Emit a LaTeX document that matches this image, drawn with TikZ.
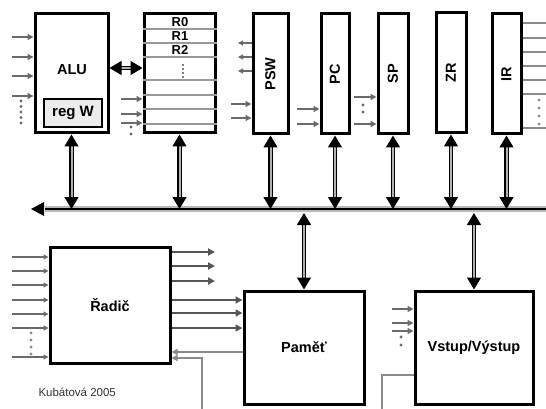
\documentclass[tikz,border=0pt]{standalone}
\usepackage{fontspec}
\setmainfont{Liberation Sans}
\usetikzlibrary{arrows.meta}
\definecolor{ar}{HTML}{6A6A6A}
\definecolor{ln}{HTML}{8A8A8A}
\begin{document}
\begin{tikzpicture}[x=1pt,y=-1pt,
  box/.style={draw=black,line width=3pt,fill=white,inner sep=0pt},
  lbl/.style={font=\fontsize{14.5}{16}\selectfont\bfseries},
  rl/.style={font=\fontsize{13}{14}\selectfont\bfseries},
  sarr/.style={draw=ar,line width=1.8pt,-{Triangle[width=6pt,length=6pt]}},
  darr/.style={draw=ar!80!black,line width=2.2pt,-{Triangle[width=7pt,length=7pt]}},
  gline/.style={draw=ln,line width=2.2pt},
  reg/.style={draw=gray!80,line width=1.2pt},
  busarr/.style={draw=black,line width=1.4pt,double=gray!60,double distance=2pt,
    {Triangle[width=14pt,length=12pt]}-{Triangle[width=14pt,length=12pt]}},
  dot/.style={fill=ar}
]
\useasboundingbox (0,0) rectangle (546,409);

% --- top row boxes
\node[box,minimum width=73pt,minimum height=119pt] (alu) at (71.5,73.5) {};
\node[lbl] (alut) at (72,70) {ALU};
\node[box,line width=2.5pt,fill=gray!15,minimum width=58pt,minimum height=28pt,
      font=\fontsize{15}{17}\selectfont\bfseries] (regw) at (73,113) {reg W};
\node[box,minimum width=71pt,minimum height=119pt] (regs) at (179.5,73.5) {};
\foreach \y in {29,43,57,80,95,109,124}
  \draw[reg] (regs.west |- 0,\y) -- (regs.east |- 0,\y);
\node[rl] (r0) at (180,22) {R0};
\node[rl] (r1) at (180,36) {R1};
\node[rl] (r2) at (180,50) {R2};
\foreach \y in {65,69,73,77} \fill[black] (183,\y) circle (0.9pt);

\node[box,minimum width=35pt,minimum height=120pt] (psw) at (270.5,74) {};
\node[lbl,rotate=90] at (psw) {PSW};
\node[box,minimum width=28pt,minimum height=120pt] (pc) at (335,74) {};
\node[lbl,rotate=90] at (pc) {PC};
\node[box,minimum width=30pt,minimum height=120pt] (sp) at (393,74) {};
\node[lbl,rotate=90] at (sp) {SP};
\node[box,minimum width=30pt,minimum height=120pt] (zr) at (451,73) {};
\node[lbl,rotate=90] at (zr) {ZR};
\node[box,minimum width=29pt,minimum height=120pt] (ir) at (506.5,74) {};
\node[lbl,rotate=90] at (ir) {IR};

% --- bottom boxes
\node[box,minimum width=120pt,minimum height=116pt] (rad) at (110,305) {};
\node[lbl] at (rad) {Řadič};
\node[box,minimum width=120pt,minimum height=113pt] (pam) at (304,347.5) {};
\node[lbl] at (pam) {Paměť};
\node[box,minimum width=118pt,minimum height=113pt] (vv) at (474,347.5) {};
\node[lbl] at (vv) {Vstup/Výstup};

\node[anchor=west,font=\fontsize{11.5}{13}\selectfont,text=black!80] (kub) at (35,392) {Kubátová 2005};

% --- bus
\coordinate (busR) at (546,209);
\coordinate (busL) at (31,209);
\draw[gray!55,line width=6pt] (busR) -- (45,209);
\draw[black,line width=1.8pt] (busR) -- (45,209);
\fill[black] (busL) -- (44,202) -- (44,216) -- cycle;

% --- bus arrows
\foreach \n in {alu,regs,psw,pc,sp,zr,ir}
  \draw[busarr] (\n.south) -- (\n.south |- busL);
\draw[busarr] (pam.north |- 0,213) -- (pam.north);
\draw[busarr] (vv.north |- 0,213) -- (vv.north);
\draw[busarr] (alu.east |- 0,68) -- (regs.west |- 0,68);

% --- ALU inputs
\foreach \y in {37,57,76,96}
  \draw[sarr] (12,\y) -- (alu.west |- 0,\y);
\foreach \y in {101,106.5,112,117.5,123} \fill[dot] (21,\y) circle (1.6pt);
% register inputs
\foreach \y in {99,114,123}
  \draw[sarr] (121,\y) -- (regs.west |- 0,\y);
\fill[dot] (131,127) circle (1.6pt);
\fill[dot] (131,134) circle (1.6pt);

% PSW outputs and inputs
\foreach \y in {43,57,71}
  \draw[draw=ar,line width=1.2pt,-{Triangle[width=5pt,length=5pt]}] (psw.west |- 0,\y) -- (238,\y);
\foreach \y in {104,118}
  \draw[sarr] (231,\y) -- (psw.west |- 0,\y);
% PC inputs
\foreach \y in {109,124}
  \draw[sarr] (297,\y) -- (pc.west |- 0,\y);
% SP inputs
\foreach \y in {97,124}
  \draw[sarr] (354,\y) -- (sp.west |- 0,\y);
\fill[dot] (363,105) circle (1.6pt);
\fill[dot] (363,112) circle (1.6pt);
% IR outputs
\foreach \y in {23,38,52,66,80,94,128}
  \draw[draw=ln,line width=1.5pt] (ir.east |- 0,\y) -- (546,\y);
\foreach \y in {100,108,116,124} \fill[fill=ln] (539,\y) circle (1.6pt);

% --- Radic inputs
\foreach \y in {257,271,285,300,314,328,357}
  \draw[draw=ar,line width=1.5pt,-{Triangle[width=5pt,length=5pt]}] (12,\y) -- (rad.west |- 0,\y);
\foreach \y in {333,340,347,354} \fill[fill=ln] (31,\y) circle (1.6pt);
% Radic outputs
\foreach \y in {252,266,281}
  \draw[darr] (rad.east |- 0,\y) -- (215,\y);
\foreach \y in {300,313,328}
  \draw[darr] (rad.east |- 0,\y) -- (pam.west |- 0,\y);
\draw[draw=ln,line width=2pt,-{Triangle[width=6pt,length=6pt]}] (pam.west |- 0,352) -- (rad.east |- 0,352);
\coordinate (c1) at (202,409);
\draw[draw=ln,line width=2.2pt,-{Triangle[width=6pt,length=6pt]}] (c1) |- (rad.east |- 0,358);

% --- VV inputs and line
\foreach \y in {309,323,331}
  \draw[sarr] (392,\y) -- (vv.west |- 0,\y);
\fill[dot] (401,337) circle (1.6pt);
\fill[dot] (401,345) circle (1.6pt);
\coordinate (c2) at (382,409);
\draw[gline] (vv.west |- 0,375) -| (c2);
\end{tikzpicture}
\end{document}
